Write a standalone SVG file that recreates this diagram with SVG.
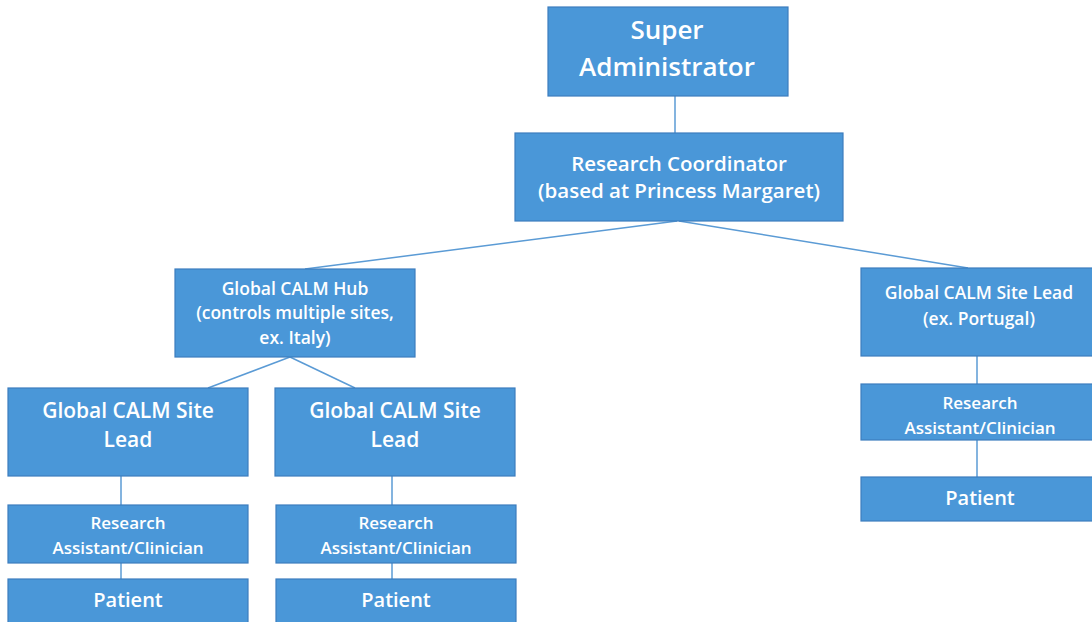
<svg xmlns="http://www.w3.org/2000/svg" width="1092" height="622" viewBox="0 0 1092 622">
<style>
.box{fill:#4A97D8;stroke:#3C7DBE;stroke-width:1.2}
.t{font-family:"Open Sans","Noto Sans",sans-serif;font-weight:600;fill:#fff;text-anchor:middle}
.l{stroke:#5B9BD5;stroke-width:1.5;fill:none}
</style>
<rect width="1092" height="622" fill="#fff"/>
<g id="connectors">
<line class="l" x1="675" y1="96" x2="675" y2="133"/>
<line class="l" x1="677" y1="221" x2="305" y2="269"/>
<line class="l" x1="679" y1="221" x2="968" y2="268"/>
<line class="l" x1="290" y1="357" x2="208" y2="388"/>
<line class="l" x1="290" y1="357" x2="355" y2="388"/>
<line class="l" x1="121" y1="476" x2="121" y2="505"/>
<line class="l" x1="121" y1="563" x2="121" y2="579"/>
<line class="l" x1="392" y1="476" x2="392" y2="505"/>
<line class="l" x1="392" y1="563" x2="392" y2="579"/>
<line class="l" x1="977" y1="356" x2="977" y2="384"/>
<line class="l" x1="977" y1="440" x2="977" y2="477"/>
</g>
<g id="super">
<rect class="box" x="548" y="7" width="240" height="89"/>
<text class="t" x="667" y="39" font-size="26">Super</text>
<text class="t" x="667" y="76" font-size="26">Administrator</text>
</g>
<g id="coordinator">
<rect class="box" x="515" y="133" width="328" height="88"/>
<text class="t" x="679" y="171" font-size="20.5">Research Coordinator</text>
<text class="t" x="679" y="198" font-size="20.5">(based at Princess Margaret)</text>
</g>
<g id="hub">
<rect class="box" x="175" y="269" width="240" height="88"/>
<text class="t" x="295" y="295" font-size="17.5">Global CALM Hub</text>
<text class="t" x="295" y="319" font-size="17.5">(controls multiple sites,</text>
<text class="t" x="295" y="344" font-size="17.5">ex. Italy)</text>
</g>
<g id="lead-portugal">
<rect class="box" x="861" y="268" width="232" height="88"/>
<text class="t" x="979" y="299" font-size="17.5">Global CALM Site Lead</text>
<text class="t" x="979" y="325" font-size="17.5">(ex. Portugal)</text>
</g>
<g id="lead1">
<rect class="box" x="8" y="388" width="240" height="88"/>
<text class="t" x="128" y="418" font-size="21">Global CALM Site</text>
<text class="t" x="128" y="447" font-size="21">Lead</text>
</g>
<g id="lead2">
<rect class="box" x="275" y="388" width="240" height="88"/>
<text class="t" x="395" y="418" font-size="21">Global CALM Site</text>
<text class="t" x="395" y="447" font-size="21">Lead</text>
</g>
<g id="ra1">
<rect class="box" x="8" y="505" width="240" height="58"/>
<text class="t" x="128" y="529" font-size="17">Research</text>
<text class="t" x="128" y="554" font-size="17">Assistant/Clinician</text>
</g>
<g id="ra2">
<rect class="box" x="276" y="505" width="240" height="58"/>
<text class="t" x="396" y="529" font-size="17">Research</text>
<text class="t" x="396" y="554" font-size="17">Assistant/Clinician</text>
</g>
<g id="ra3">
<rect class="box" x="861" y="384" width="232" height="56"/>
<text class="t" x="980" y="409" font-size="17">Research</text>
<text class="t" x="980" y="434" font-size="17">Assistant/Clinician</text>
</g>
<g id="patient1">
<rect class="box" x="8" y="579" width="240" height="50"/>
<text class="t" x="128" y="607" font-size="20">Patient</text>
</g>
<g id="patient2">
<rect class="box" x="276" y="579" width="240" height="50"/>
<text class="t" x="396" y="607" font-size="20">Patient</text>
</g>
<g id="patient3">
<rect class="box" x="861" y="477" width="232" height="44"/>
<text class="t" x="980" y="505" font-size="20">Patient</text>
</g>
</svg>
